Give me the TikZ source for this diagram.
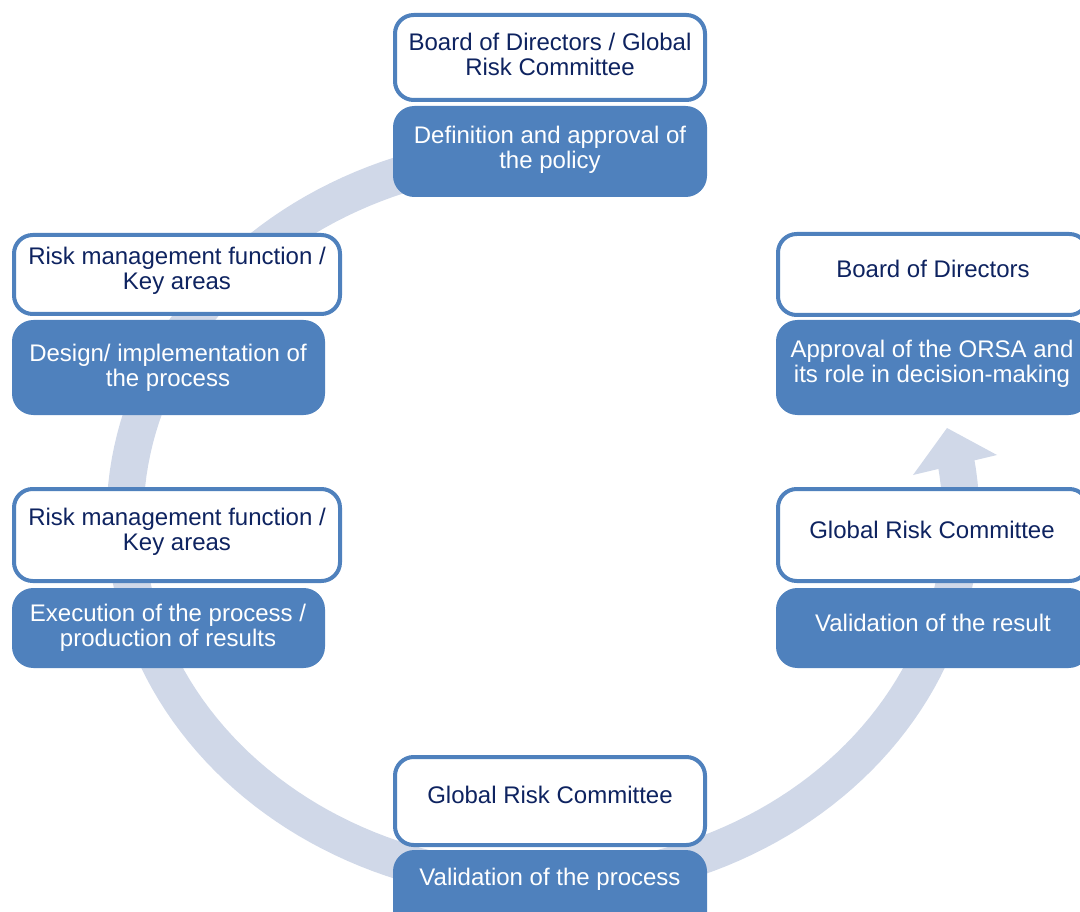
\documentclass[tikz,border=0pt]{standalone}
\usepackage{fontspec}
\setmainfont{Liberation Sans}
\usetikzlibrary{fit}
\definecolor{accent}{RGB}{79,129,189}
\definecolor{bandcol}{RGB}{208,216,232}
\definecolor{navy}{RGB}{14,35,96}
\begin{document}
\begin{tikzpicture}[x=0.75pt,y=-0.75pt,
  wbox/.style={draw=accent, line width=3pt, fill=white, rounded corners=14pt, inner sep=0pt},
  bbox/.style={fill=accent, rounded corners=16pt, inner sep=0pt},
  wtxt/.style={text=navy, align=center, inner sep=0pt, font=\fontsize{18}{18.75}\selectfont},
  btxt/.style={text=white, align=center, inner sep=0pt, font=\fontsize{18}{18.75}\selectfont},
  bandline/.style={draw=bandcol, line width=27.75pt, line cap=butt}]
\clip (0,0) rectangle (1080,912);
% cycle arrow
\draw[bandline] plot[domain=75:369, samples=160] ({543+418*cos(\x)},{518-365*sin(\x)});
\coordinate (hl) at (913,475);
\coordinate (ht) at (947,428);
\coordinate (hr) at (997,455);
\fill[bandcol] (hl) -- (ht) -- (hr) -- cycle;
% top pair
\node[wbox, fit={(395,15) (705,100)}] (w1) {};
\node[bbox, fit={(393,106) (707,197)}] (b1) {};
\node[wtxt] (tw1) at (550,54) {Board of Directors / Global\\Risk Committee};
\node[btxt] (tb1) at (550,150) {Definition and approval of\\the policy};
% left top pair
\node[wbox, fit={(14,235) (340,314)}] (w2) {};
\node[bbox, fit={(12,320) (325,415)}] (b2) {};
\node[wtxt] (tw2) at (177,271) {Risk management function /\\Key areas};
\node[btxt] (tb2) at (168,368) {Design/ implementation of\\the process};
% left bottom pair
\node[wbox, fit={(14,489) (340,581)}] (w3) {};
\node[bbox, fit={(12,588) (325,668)}] (b3) {};
\node[wtxt] (tw3) at (177,532) {Risk management function /\\Key areas};
\node[btxt] (tb3) at (168,628) {Execution of the process /\\production of results};
% bottom pair
\node[wbox, fit={(395,757) (705,845)}] (w4) {};
\node[bbox, fit={(393,850) (707,940)}] (b4) {};
\node[wtxt] (tw4) at (550,795) {Global Risk Committee};
\node[btxt] (tb4) at (550,879) {Validation of the process};
% right bottom pair
\node[wbox, fit={(778,489) (1088,581)}] (w5) {};
\node[bbox, fit={(776,588) (1090,668)}] (b5) {};
\node[wtxt] (tw5) at (932,530) {Global Risk Committee};
\node[btxt] (tb5) at (933,623) {Validation of the result};
% right top pair
\node[wbox, fit={(778,234) (1088,315)}] (w6) {};
\node[bbox, fit={(776,320) (1090,415)}] (b6) {};
\node[wtxt] (tw6) at (933,269) {Board of Directors};
\node[btxt] (tb6) at (932,364) {Approval of the ORSA and\\its role in decision-making};
\end{tikzpicture}
\end{document}
